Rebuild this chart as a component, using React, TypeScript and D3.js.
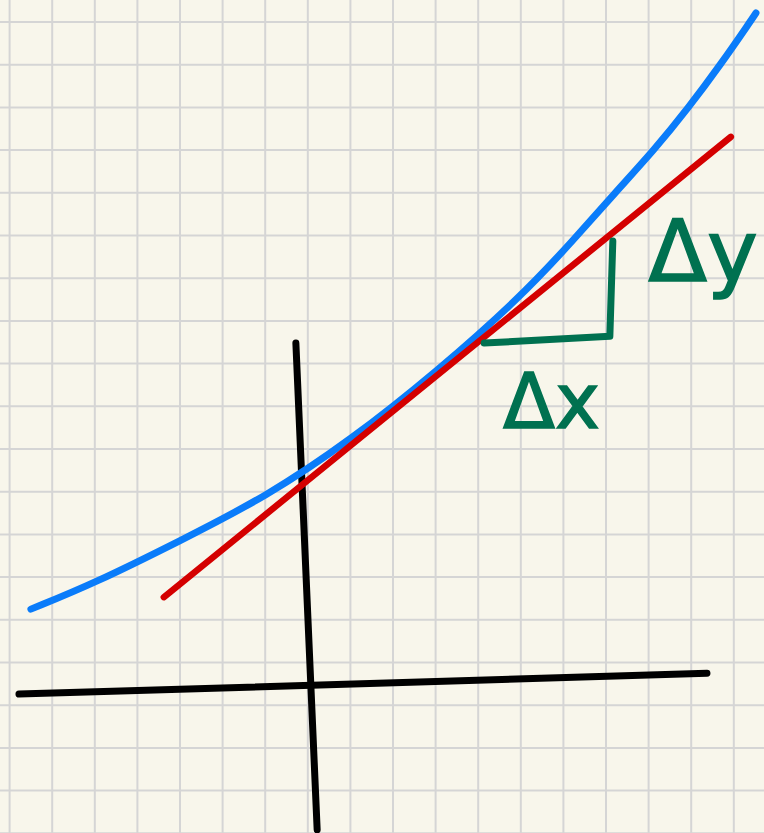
import * as React from "react";
import * as d3 from "d3";
import { useEffect, useRef } from "react";

type Pt = [number, number];

// units are grid squares, origin at bottom-left grid crossing, y up
const gridCols = d3.range(-1, 19);
const gridRows = d3.range(-1, 19);

// the curve f(x)
const curvePts: Pt[] = [
  [0.5, 4.25],
  [2.0, 4.86],
  [4.0, 5.85],
  [6.02, 6.88],
  [8.01, 8.21],
  [10.01, 9.8],
  [11.98, 11.54],
  [13.27, 12.93],
  [14.21, 14.0],
  [15.13, 15.0],
  [15.95, 16.01],
  [16.68, 16.99],
  [17.38, 18.0],
  [17.52, 18.21],
];

// tangent line
const tangentPts: Pt[] = [
  [3.62, 4.53],
  [16.93, 15.31],
];

// hand drawn axes
const xAxisPts: Pt[] = [
  [0.22, 2.26],
  [16.37, 2.75],
];
const yAxisPts: Pt[] = [
  [6.72, 10.48],
  [7.22, -0.92],
];

// slope triangle
const slopePts: Pt[] = [
  [11.14, 10.48],
  [14.09, 10.64],
  [14.16, 12.87],
];

const labels = [
  { text: "Δx", x: 11.58, y: 8.49, size: 76 },
  { text: "Δy", x: 14.99, y: 11.93, size: 86 },
];

function drawSketch(svgRef: React.RefObject<SVGSVGElement>) {
  const width = 764;
  const height = 833;
  const svg = d3.select(svgRef.current);
  svg.selectAll("*").remove();
  svg.attr("width", width).attr("height", height);

  const x = d3.scaleLinear().domain([0, 1]).range([9.6, 52.2]);
  const y = d3.scaleLinear().domain([0, 1]).range([790.6, 747.9]);

  svg
    .append("rect")
    .attr("width", width)
    .attr("height", height)
    .attr("fill", "#f8f6eb");

  // grid paper
  svg
    .append("g")
    .selectAll("line")
    .data(gridCols)
    .enter()
    .append("line")
    .attr("x1", (d) => x(d))
    .attr("x2", (d) => x(d))
    .attr("y1", 0)
    .attr("y2", height)
    .attr("stroke", "#d5d5d5")
    .attr("stroke-width", 2);
  svg
    .append("g")
    .selectAll("line")
    .data(gridRows)
    .enter()
    .append("line")
    .attr("y1", (d) => y(d))
    .attr("y2", (d) => y(d))
    .attr("x1", 0)
    .attr("x2", width)
    .attr("stroke", "#d5d5d5")
    .attr("stroke-width", 2);

  const straight = d3
    .line<Pt>()
    .x((d) => x(d[0]))
    .y((d) => y(d[1]));
  // basis smooths out the jitter of the hand-read points
  const smooth = d3
    .line<Pt>()
    .x((d) => x(d[0]))
    .y((d) => y(d[1]))
    .curve(d3.curveBasis);

  const stroke = (d: string, color: string, w: number) =>
    svg
      .append("path")
      .attr("d", d)
      .attr("fill", "none")
      .attr("stroke", color)
      .attr("stroke-width", w)
      .attr("stroke-linecap", "round")
      .attr("stroke-linejoin", "round");

  stroke(straight(xAxisPts)!, "#000000", 7);
  stroke(straight(yAxisPts)!, "#000000", 7);
  stroke(smooth(curvePts)!, "#0a7cfa", 7);
  stroke(straight(tangentPts)!, "#d40000", 6.5);
  stroke(straight(slopePts)!, "#007150", 7);

  svg
    .selectAll("text.lbl")
    .data(labels)
    .enter()
    .append("text")
    .attr("class", "lbl")
    .attr("x", (d) => x(d.x))
    .attr("y", (d) => y(d.y))
    .attr("font-family", '"DejaVu Sans", sans-serif')
    .attr("font-size", (d) => d.size)
    .attr("fill", "#007150")
    .attr("stroke", "#007150")
    .attr("stroke-width", 1.5)
    .text((d) => d.text);
}

export default function App() {
  const svg = useRef<SVGSVGElement>(null);
  useEffect(() => {
    drawSketch(svg);
  }, []);
  return (
    <svg
      ref={svg}
      style={{ position: "absolute", left: 0, top: 0, display: "block" }}
    />
  );
}
